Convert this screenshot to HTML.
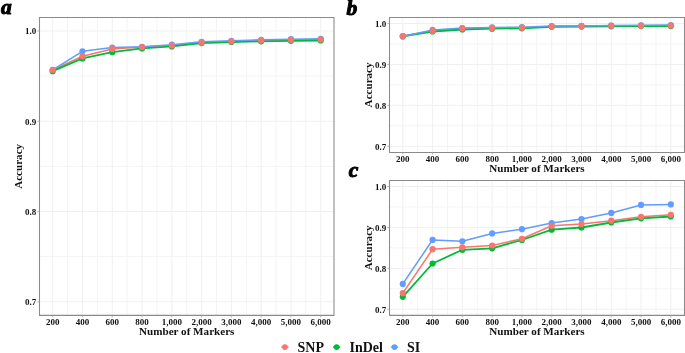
<!DOCTYPE html>
<html><head><meta charset="utf-8"><title>Accuracy vs Number of Markers</title><style>
html,body{margin:0;padding:0;background:#fff;}
body{width:685px;height:353px;overflow:hidden;}
svg{display:block;filter:blur(0.25px);}
text{font-family:"Liberation Serif", serif;font-weight:bold;fill:#111;}
.t{font-size:9px;}
.ax{font-size:11.1px;}
.lg{font-size:14px;}
.tag{font-size:21.5px;font-style:italic;fill:#000;stroke:#000;stroke-width:1px;stroke-linejoin:round;}
</style></head>
<body>
<svg width="685" height="353" viewBox="0 0 685 353">
<rect width="685" height="353" fill="#fff"/>
<line x1="67.59" y1="17.4" x2="67.59" y2="315.35" stroke="#f4f4f4" stroke-width="1"/>
<line x1="97.37" y1="17.4" x2="97.37" y2="315.35" stroke="#f4f4f4" stroke-width="1"/>
<line x1="127.15" y1="17.4" x2="127.15" y2="315.35" stroke="#f4f4f4" stroke-width="1"/>
<line x1="156.93" y1="17.4" x2="156.93" y2="315.35" stroke="#f4f4f4" stroke-width="1"/>
<line x1="186.71" y1="17.4" x2="186.71" y2="315.35" stroke="#f4f4f4" stroke-width="1"/>
<line x1="216.49" y1="17.4" x2="216.49" y2="315.35" stroke="#f4f4f4" stroke-width="1"/>
<line x1="246.27" y1="17.4" x2="246.27" y2="315.35" stroke="#f4f4f4" stroke-width="1"/>
<line x1="276.05" y1="17.4" x2="276.05" y2="315.35" stroke="#f4f4f4" stroke-width="1"/>
<line x1="305.83" y1="17.4" x2="305.83" y2="315.35" stroke="#f4f4f4" stroke-width="1"/>
<line x1="39.5" y1="256.66" x2="334.0" y2="256.66" stroke="#f4f4f4" stroke-width="1"/>
<line x1="39.5" y1="166.38" x2="334.0" y2="166.38" stroke="#f4f4f4" stroke-width="1"/>
<line x1="39.5" y1="76.09" x2="334.0" y2="76.09" stroke="#f4f4f4" stroke-width="1"/>
<line x1="52.70" y1="17.4" x2="52.70" y2="315.35" stroke="#f0f0f0" stroke-width="1"/>
<line x1="82.48" y1="17.4" x2="82.48" y2="315.35" stroke="#f0f0f0" stroke-width="1"/>
<line x1="112.26" y1="17.4" x2="112.26" y2="315.35" stroke="#f0f0f0" stroke-width="1"/>
<line x1="142.04" y1="17.4" x2="142.04" y2="315.35" stroke="#f0f0f0" stroke-width="1"/>
<line x1="171.82" y1="17.4" x2="171.82" y2="315.35" stroke="#f0f0f0" stroke-width="1"/>
<line x1="201.60" y1="17.4" x2="201.60" y2="315.35" stroke="#f0f0f0" stroke-width="1"/>
<line x1="231.38" y1="17.4" x2="231.38" y2="315.35" stroke="#f0f0f0" stroke-width="1"/>
<line x1="261.16" y1="17.4" x2="261.16" y2="315.35" stroke="#f0f0f0" stroke-width="1"/>
<line x1="290.94" y1="17.4" x2="290.94" y2="315.35" stroke="#f0f0f0" stroke-width="1"/>
<line x1="320.72" y1="17.4" x2="320.72" y2="315.35" stroke="#f0f0f0" stroke-width="1"/>
<line x1="39.5" y1="301.81" x2="334.0" y2="301.81" stroke="#f0f0f0" stroke-width="1"/>
<line x1="39.5" y1="211.52" x2="334.0" y2="211.52" stroke="#f0f0f0" stroke-width="1"/>
<line x1="39.5" y1="121.23" x2="334.0" y2="121.23" stroke="#f0f0f0" stroke-width="1"/>
<line x1="39.5" y1="30.94" x2="334.0" y2="30.94" stroke="#f0f0f0" stroke-width="1"/>
<polyline points="52.70,70.00 82.48,56.30 112.26,48.90 142.04,47.10 171.82,45.50 201.60,42.50 231.38,41.40 261.16,40.50 290.94,39.80 320.72,39.45" fill="none" stroke="#F8766D" stroke-width="1.55" stroke-linejoin="round"/>
<polyline points="52.70,71.20 82.48,58.40 112.26,52.20 142.04,48.40 171.82,46.40 201.60,43.10 231.38,42.00 261.16,41.30 290.94,40.80 320.72,40.50" fill="none" stroke="#00BA38" stroke-width="1.8" stroke-linejoin="round"/>
<polyline points="52.70,69.80 82.48,51.30 112.26,47.50 142.04,46.80 171.82,44.70 201.60,41.80 231.38,40.80 261.16,39.80 290.94,39.20 320.72,38.80" fill="none" stroke="#619CFF" stroke-width="1.55" stroke-linejoin="round"/>
<circle cx="52.70" cy="71.20" r="3.1" fill="#00BA38"/>
<circle cx="82.48" cy="58.40" r="3.1" fill="#00BA38"/>
<circle cx="112.26" cy="52.20" r="3.1" fill="#00BA38"/>
<circle cx="142.04" cy="48.40" r="3.1" fill="#00BA38"/>
<circle cx="171.82" cy="46.40" r="3.1" fill="#00BA38"/>
<circle cx="201.60" cy="43.10" r="3.1" fill="#00BA38"/>
<circle cx="231.38" cy="42.00" r="3.1" fill="#00BA38"/>
<circle cx="261.16" cy="41.30" r="3.1" fill="#00BA38"/>
<circle cx="290.94" cy="40.80" r="3.1" fill="#00BA38"/>
<circle cx="320.72" cy="40.50" r="3.1" fill="#00BA38"/>
<circle cx="52.70" cy="69.80" r="3.1" fill="#619CFF"/>
<circle cx="82.48" cy="51.30" r="3.1" fill="#619CFF"/>
<circle cx="112.26" cy="47.50" r="3.1" fill="#619CFF"/>
<circle cx="142.04" cy="46.80" r="3.1" fill="#619CFF"/>
<circle cx="171.82" cy="44.70" r="3.1" fill="#619CFF"/>
<circle cx="201.60" cy="41.80" r="3.1" fill="#619CFF"/>
<circle cx="231.38" cy="40.80" r="3.1" fill="#619CFF"/>
<circle cx="261.16" cy="39.80" r="3.1" fill="#619CFF"/>
<circle cx="290.94" cy="39.20" r="3.1" fill="#619CFF"/>
<circle cx="320.72" cy="38.80" r="3.1" fill="#619CFF"/>
<circle cx="52.70" cy="70.00" r="3.1" fill="#F8766D"/>
<circle cx="82.48" cy="56.30" r="3.1" fill="#F8766D"/>
<circle cx="112.26" cy="48.90" r="3.1" fill="#F8766D"/>
<circle cx="142.04" cy="47.10" r="3.1" fill="#F8766D"/>
<circle cx="171.82" cy="45.50" r="3.1" fill="#F8766D"/>
<circle cx="201.60" cy="42.50" r="3.1" fill="#F8766D"/>
<circle cx="231.38" cy="41.40" r="3.1" fill="#F8766D"/>
<circle cx="261.16" cy="40.50" r="3.1" fill="#F8766D"/>
<circle cx="290.94" cy="39.80" r="3.1" fill="#F8766D"/>
<circle cx="320.72" cy="39.45" r="3.1" fill="#F8766D"/>
<path d="M39.5,17.4H334.0V315.35H39.5Z" fill="none" stroke="#8a8a8a" stroke-width="1.05"/>
<line x1="52.70" y1="315.35" x2="52.70" y2="317.35" stroke="#a8a8a8" stroke-width="0.9"/>
<line x1="82.48" y1="315.35" x2="82.48" y2="317.35" stroke="#a8a8a8" stroke-width="0.9"/>
<line x1="112.26" y1="315.35" x2="112.26" y2="317.35" stroke="#a8a8a8" stroke-width="0.9"/>
<line x1="142.04" y1="315.35" x2="142.04" y2="317.35" stroke="#a8a8a8" stroke-width="0.9"/>
<line x1="171.82" y1="315.35" x2="171.82" y2="317.35" stroke="#a8a8a8" stroke-width="0.9"/>
<line x1="201.60" y1="315.35" x2="201.60" y2="317.35" stroke="#a8a8a8" stroke-width="0.9"/>
<line x1="231.38" y1="315.35" x2="231.38" y2="317.35" stroke="#a8a8a8" stroke-width="0.9"/>
<line x1="261.16" y1="315.35" x2="261.16" y2="317.35" stroke="#a8a8a8" stroke-width="0.9"/>
<line x1="290.94" y1="315.35" x2="290.94" y2="317.35" stroke="#a8a8a8" stroke-width="0.9"/>
<line x1="320.72" y1="315.35" x2="320.72" y2="317.35" stroke="#a8a8a8" stroke-width="0.9"/>
<line x1="37.3" y1="301.81" x2="39.5" y2="301.81" stroke="#a8a8a8" stroke-width="0.9"/>
<line x1="37.3" y1="211.52" x2="39.5" y2="211.52" stroke="#a8a8a8" stroke-width="0.9"/>
<line x1="37.3" y1="121.23" x2="39.5" y2="121.23" stroke="#a8a8a8" stroke-width="0.9"/>
<line x1="37.3" y1="30.94" x2="39.5" y2="30.94" stroke="#a8a8a8" stroke-width="0.9"/>
<text x="52.70" y="324.95" text-anchor="middle" class="t">200</text>
<text x="82.48" y="324.95" text-anchor="middle" class="t">400</text>
<text x="112.26" y="324.95" text-anchor="middle" class="t">600</text>
<text x="142.04" y="324.95" text-anchor="middle" class="t">800</text>
<text x="171.82" y="324.95" text-anchor="middle" class="t">1,000</text>
<text x="201.60" y="324.95" text-anchor="middle" class="t">2,000</text>
<text x="231.38" y="324.95" text-anchor="middle" class="t">3,000</text>
<text x="261.16" y="324.95" text-anchor="middle" class="t">4,000</text>
<text x="290.94" y="324.95" text-anchor="middle" class="t">5,000</text>
<text x="320.72" y="324.95" text-anchor="middle" class="t">6,000</text>
<text x="36.30" y="305.31" text-anchor="end" class="t">0.7</text>
<text x="36.30" y="215.02" text-anchor="end" class="t">0.8</text>
<text x="36.30" y="124.73" text-anchor="end" class="t">0.9</text>
<text x="36.30" y="34.44" text-anchor="end" class="t">1.0</text>
<text x="186.75" y="335.35" text-anchor="middle" class="ax">Number of Markers</text>
<text transform="translate(22.30,166.38) rotate(-90)" text-anchor="middle" class="ax">Accuracy</text>
<line x1="417.69" y1="17.4" x2="417.69" y2="152.4" stroke="#f4f4f4" stroke-width="1"/>
<line x1="447.47" y1="17.4" x2="447.47" y2="152.4" stroke="#f4f4f4" stroke-width="1"/>
<line x1="477.25" y1="17.4" x2="477.25" y2="152.4" stroke="#f4f4f4" stroke-width="1"/>
<line x1="507.03" y1="17.4" x2="507.03" y2="152.4" stroke="#f4f4f4" stroke-width="1"/>
<line x1="536.81" y1="17.4" x2="536.81" y2="152.4" stroke="#f4f4f4" stroke-width="1"/>
<line x1="566.59" y1="17.4" x2="566.59" y2="152.4" stroke="#f4f4f4" stroke-width="1"/>
<line x1="596.37" y1="17.4" x2="596.37" y2="152.4" stroke="#f4f4f4" stroke-width="1"/>
<line x1="626.15" y1="17.4" x2="626.15" y2="152.4" stroke="#f4f4f4" stroke-width="1"/>
<line x1="655.93" y1="17.4" x2="655.93" y2="152.4" stroke="#f4f4f4" stroke-width="1"/>
<line x1="389.5" y1="125.81" x2="684.5" y2="125.81" stroke="#f4f4f4" stroke-width="1"/>
<line x1="389.5" y1="84.90" x2="684.5" y2="84.90" stroke="#f4f4f4" stroke-width="1"/>
<line x1="389.5" y1="43.99" x2="684.5" y2="43.99" stroke="#f4f4f4" stroke-width="1"/>
<line x1="402.80" y1="17.4" x2="402.80" y2="152.4" stroke="#f0f0f0" stroke-width="1"/>
<line x1="432.58" y1="17.4" x2="432.58" y2="152.4" stroke="#f0f0f0" stroke-width="1"/>
<line x1="462.36" y1="17.4" x2="462.36" y2="152.4" stroke="#f0f0f0" stroke-width="1"/>
<line x1="492.14" y1="17.4" x2="492.14" y2="152.4" stroke="#f0f0f0" stroke-width="1"/>
<line x1="521.92" y1="17.4" x2="521.92" y2="152.4" stroke="#f0f0f0" stroke-width="1"/>
<line x1="551.70" y1="17.4" x2="551.70" y2="152.4" stroke="#f0f0f0" stroke-width="1"/>
<line x1="581.48" y1="17.4" x2="581.48" y2="152.4" stroke="#f0f0f0" stroke-width="1"/>
<line x1="611.26" y1="17.4" x2="611.26" y2="152.4" stroke="#f0f0f0" stroke-width="1"/>
<line x1="641.04" y1="17.4" x2="641.04" y2="152.4" stroke="#f0f0f0" stroke-width="1"/>
<line x1="670.82" y1="17.4" x2="670.82" y2="152.4" stroke="#f0f0f0" stroke-width="1"/>
<line x1="389.5" y1="146.26" x2="684.5" y2="146.26" stroke="#f0f0f0" stroke-width="1"/>
<line x1="389.5" y1="105.35" x2="684.5" y2="105.35" stroke="#f0f0f0" stroke-width="1"/>
<line x1="389.5" y1="64.45" x2="684.5" y2="64.45" stroke="#f0f0f0" stroke-width="1"/>
<line x1="389.5" y1="23.54" x2="684.5" y2="23.54" stroke="#f0f0f0" stroke-width="1"/>
<polyline points="402.80,36.06 432.58,30.80 462.36,28.40 492.14,27.90 521.92,27.65 551.70,26.30 581.48,26.10 611.26,25.70 641.04,25.70 670.82,25.60" fill="none" stroke="#F8766D" stroke-width="1.55" stroke-linejoin="round"/>
<polyline points="402.80,36.30 432.58,31.50 462.36,29.50 492.14,28.70 521.92,28.30 551.70,26.80 581.48,26.60 611.26,26.30 641.04,26.10 670.82,26.10" fill="none" stroke="#00BA38" stroke-width="1.8" stroke-linejoin="round"/>
<polyline points="402.80,36.40 432.58,29.95 462.36,28.00 492.14,27.40 521.92,27.20 551.70,26.10 581.48,25.90 611.26,25.50 641.04,25.30 670.82,25.00" fill="none" stroke="#619CFF" stroke-width="1.55" stroke-linejoin="round"/>
<circle cx="402.80" cy="36.30" r="3.1" fill="#00BA38"/>
<circle cx="432.58" cy="31.50" r="3.1" fill="#00BA38"/>
<circle cx="462.36" cy="29.50" r="3.1" fill="#00BA38"/>
<circle cx="492.14" cy="28.70" r="3.1" fill="#00BA38"/>
<circle cx="521.92" cy="28.30" r="3.1" fill="#00BA38"/>
<circle cx="551.70" cy="26.80" r="3.1" fill="#00BA38"/>
<circle cx="581.48" cy="26.60" r="3.1" fill="#00BA38"/>
<circle cx="611.26" cy="26.30" r="3.1" fill="#00BA38"/>
<circle cx="641.04" cy="26.10" r="3.1" fill="#00BA38"/>
<circle cx="670.82" cy="26.10" r="3.1" fill="#00BA38"/>
<circle cx="402.80" cy="36.40" r="3.1" fill="#619CFF"/>
<circle cx="432.58" cy="29.95" r="3.1" fill="#619CFF"/>
<circle cx="462.36" cy="28.00" r="3.1" fill="#619CFF"/>
<circle cx="492.14" cy="27.40" r="3.1" fill="#619CFF"/>
<circle cx="521.92" cy="27.20" r="3.1" fill="#619CFF"/>
<circle cx="551.70" cy="26.10" r="3.1" fill="#619CFF"/>
<circle cx="581.48" cy="25.90" r="3.1" fill="#619CFF"/>
<circle cx="611.26" cy="25.50" r="3.1" fill="#619CFF"/>
<circle cx="641.04" cy="25.30" r="3.1" fill="#619CFF"/>
<circle cx="670.82" cy="25.00" r="3.1" fill="#619CFF"/>
<circle cx="402.80" cy="36.06" r="3.1" fill="#F8766D"/>
<circle cx="432.58" cy="30.80" r="3.1" fill="#F8766D"/>
<circle cx="462.36" cy="28.40" r="3.1" fill="#F8766D"/>
<circle cx="492.14" cy="27.90" r="3.1" fill="#F8766D"/>
<circle cx="521.92" cy="27.65" r="3.1" fill="#F8766D"/>
<circle cx="551.70" cy="26.30" r="3.1" fill="#F8766D"/>
<circle cx="581.48" cy="26.10" r="3.1" fill="#F8766D"/>
<circle cx="611.26" cy="25.70" r="3.1" fill="#F8766D"/>
<circle cx="641.04" cy="25.70" r="3.1" fill="#F8766D"/>
<circle cx="670.82" cy="25.60" r="3.1" fill="#F8766D"/>
<path d="M389.5,17.4H684.5V152.4H389.5Z" fill="none" stroke="#8a8a8a" stroke-width="1.05"/>
<line x1="402.80" y1="152.4" x2="402.80" y2="154.4" stroke="#a8a8a8" stroke-width="0.9"/>
<line x1="432.58" y1="152.4" x2="432.58" y2="154.4" stroke="#a8a8a8" stroke-width="0.9"/>
<line x1="462.36" y1="152.4" x2="462.36" y2="154.4" stroke="#a8a8a8" stroke-width="0.9"/>
<line x1="492.14" y1="152.4" x2="492.14" y2="154.4" stroke="#a8a8a8" stroke-width="0.9"/>
<line x1="521.92" y1="152.4" x2="521.92" y2="154.4" stroke="#a8a8a8" stroke-width="0.9"/>
<line x1="551.70" y1="152.4" x2="551.70" y2="154.4" stroke="#a8a8a8" stroke-width="0.9"/>
<line x1="581.48" y1="152.4" x2="581.48" y2="154.4" stroke="#a8a8a8" stroke-width="0.9"/>
<line x1="611.26" y1="152.4" x2="611.26" y2="154.4" stroke="#a8a8a8" stroke-width="0.9"/>
<line x1="641.04" y1="152.4" x2="641.04" y2="154.4" stroke="#a8a8a8" stroke-width="0.9"/>
<line x1="670.82" y1="152.4" x2="670.82" y2="154.4" stroke="#a8a8a8" stroke-width="0.9"/>
<line x1="387.3" y1="146.26" x2="389.5" y2="146.26" stroke="#a8a8a8" stroke-width="0.9"/>
<line x1="387.3" y1="105.35" x2="389.5" y2="105.35" stroke="#a8a8a8" stroke-width="0.9"/>
<line x1="387.3" y1="64.45" x2="389.5" y2="64.45" stroke="#a8a8a8" stroke-width="0.9"/>
<line x1="387.3" y1="23.54" x2="389.5" y2="23.54" stroke="#a8a8a8" stroke-width="0.9"/>
<text x="402.80" y="162.00" text-anchor="middle" class="t">200</text>
<text x="432.58" y="162.00" text-anchor="middle" class="t">400</text>
<text x="462.36" y="162.00" text-anchor="middle" class="t">600</text>
<text x="492.14" y="162.00" text-anchor="middle" class="t">800</text>
<text x="521.92" y="162.00" text-anchor="middle" class="t">1,000</text>
<text x="551.70" y="162.00" text-anchor="middle" class="t">2,000</text>
<text x="581.48" y="162.00" text-anchor="middle" class="t">3,000</text>
<text x="611.26" y="162.00" text-anchor="middle" class="t">4,000</text>
<text x="641.04" y="162.00" text-anchor="middle" class="t">5,000</text>
<text x="670.82" y="162.00" text-anchor="middle" class="t">6,000</text>
<text x="386.30" y="149.76" text-anchor="end" class="t">0.7</text>
<text x="386.30" y="108.85" text-anchor="end" class="t">0.8</text>
<text x="386.30" y="67.95" text-anchor="end" class="t">0.9</text>
<text x="386.30" y="27.04" text-anchor="end" class="t">1.0</text>
<text x="537.00" y="172.40" text-anchor="middle" class="ax">Number of Markers</text>
<text transform="translate(372.30,84.90) rotate(-90)" text-anchor="middle" class="ax">Accuracy</text>
<line x1="417.69" y1="180.4" x2="417.69" y2="315.35" stroke="#f4f4f4" stroke-width="1"/>
<line x1="447.47" y1="180.4" x2="447.47" y2="315.35" stroke="#f4f4f4" stroke-width="1"/>
<line x1="477.25" y1="180.4" x2="477.25" y2="315.35" stroke="#f4f4f4" stroke-width="1"/>
<line x1="507.03" y1="180.4" x2="507.03" y2="315.35" stroke="#f4f4f4" stroke-width="1"/>
<line x1="536.81" y1="180.4" x2="536.81" y2="315.35" stroke="#f4f4f4" stroke-width="1"/>
<line x1="566.59" y1="180.4" x2="566.59" y2="315.35" stroke="#f4f4f4" stroke-width="1"/>
<line x1="596.37" y1="180.4" x2="596.37" y2="315.35" stroke="#f4f4f4" stroke-width="1"/>
<line x1="626.15" y1="180.4" x2="626.15" y2="315.35" stroke="#f4f4f4" stroke-width="1"/>
<line x1="655.93" y1="180.4" x2="655.93" y2="315.35" stroke="#f4f4f4" stroke-width="1"/>
<line x1="389.5" y1="288.77" x2="684.5" y2="288.77" stroke="#f4f4f4" stroke-width="1"/>
<line x1="389.5" y1="247.88" x2="684.5" y2="247.88" stroke="#f4f4f4" stroke-width="1"/>
<line x1="389.5" y1="206.98" x2="684.5" y2="206.98" stroke="#f4f4f4" stroke-width="1"/>
<line x1="402.80" y1="180.4" x2="402.80" y2="315.35" stroke="#f0f0f0" stroke-width="1"/>
<line x1="432.58" y1="180.4" x2="432.58" y2="315.35" stroke="#f0f0f0" stroke-width="1"/>
<line x1="462.36" y1="180.4" x2="462.36" y2="315.35" stroke="#f0f0f0" stroke-width="1"/>
<line x1="492.14" y1="180.4" x2="492.14" y2="315.35" stroke="#f0f0f0" stroke-width="1"/>
<line x1="521.92" y1="180.4" x2="521.92" y2="315.35" stroke="#f0f0f0" stroke-width="1"/>
<line x1="551.70" y1="180.4" x2="551.70" y2="315.35" stroke="#f0f0f0" stroke-width="1"/>
<line x1="581.48" y1="180.4" x2="581.48" y2="315.35" stroke="#f0f0f0" stroke-width="1"/>
<line x1="611.26" y1="180.4" x2="611.26" y2="315.35" stroke="#f0f0f0" stroke-width="1"/>
<line x1="641.04" y1="180.4" x2="641.04" y2="315.35" stroke="#f0f0f0" stroke-width="1"/>
<line x1="670.82" y1="180.4" x2="670.82" y2="315.35" stroke="#f0f0f0" stroke-width="1"/>
<line x1="389.5" y1="309.22" x2="684.5" y2="309.22" stroke="#f0f0f0" stroke-width="1"/>
<line x1="389.5" y1="268.32" x2="684.5" y2="268.32" stroke="#f0f0f0" stroke-width="1"/>
<line x1="389.5" y1="227.43" x2="684.5" y2="227.43" stroke="#f0f0f0" stroke-width="1"/>
<line x1="389.5" y1="186.53" x2="684.5" y2="186.53" stroke="#f0f0f0" stroke-width="1"/>
<polyline points="402.80,293.10 432.58,249.20 462.36,247.30 492.14,245.50 521.92,238.80 551.70,225.80 581.48,224.00 611.26,220.70 641.04,216.80 670.82,214.80" fill="none" stroke="#F8766D" stroke-width="1.55" stroke-linejoin="round"/>
<polyline points="402.80,296.80 432.58,263.50 462.36,249.80 492.14,248.30 521.92,240.00 551.70,229.70 581.48,227.50 611.26,222.50 641.04,218.30 670.82,216.50" fill="none" stroke="#00BA38" stroke-width="1.8" stroke-linejoin="round"/>
<polyline points="402.80,283.90 432.58,239.90 462.36,241.30 492.14,233.40 521.92,229.20 551.70,223.10 581.48,219.00 611.26,212.90 641.04,204.90 670.82,204.40" fill="none" stroke="#619CFF" stroke-width="1.55" stroke-linejoin="round"/>
<circle cx="402.80" cy="296.80" r="3.1" fill="#00BA38"/>
<circle cx="432.58" cy="263.50" r="3.1" fill="#00BA38"/>
<circle cx="462.36" cy="249.80" r="3.1" fill="#00BA38"/>
<circle cx="492.14" cy="248.30" r="3.1" fill="#00BA38"/>
<circle cx="521.92" cy="240.00" r="3.1" fill="#00BA38"/>
<circle cx="551.70" cy="229.70" r="3.1" fill="#00BA38"/>
<circle cx="581.48" cy="227.50" r="3.1" fill="#00BA38"/>
<circle cx="611.26" cy="222.50" r="3.1" fill="#00BA38"/>
<circle cx="641.04" cy="218.30" r="3.1" fill="#00BA38"/>
<circle cx="670.82" cy="216.50" r="3.1" fill="#00BA38"/>
<circle cx="402.80" cy="283.90" r="3.1" fill="#619CFF"/>
<circle cx="432.58" cy="239.90" r="3.1" fill="#619CFF"/>
<circle cx="462.36" cy="241.30" r="3.1" fill="#619CFF"/>
<circle cx="492.14" cy="233.40" r="3.1" fill="#619CFF"/>
<circle cx="521.92" cy="229.20" r="3.1" fill="#619CFF"/>
<circle cx="551.70" cy="223.10" r="3.1" fill="#619CFF"/>
<circle cx="581.48" cy="219.00" r="3.1" fill="#619CFF"/>
<circle cx="611.26" cy="212.90" r="3.1" fill="#619CFF"/>
<circle cx="641.04" cy="204.90" r="3.1" fill="#619CFF"/>
<circle cx="670.82" cy="204.40" r="3.1" fill="#619CFF"/>
<circle cx="402.80" cy="293.10" r="3.1" fill="#F8766D"/>
<circle cx="432.58" cy="249.20" r="3.1" fill="#F8766D"/>
<circle cx="462.36" cy="247.30" r="3.1" fill="#F8766D"/>
<circle cx="492.14" cy="245.50" r="3.1" fill="#F8766D"/>
<circle cx="521.92" cy="238.80" r="3.1" fill="#F8766D"/>
<circle cx="551.70" cy="225.80" r="3.1" fill="#F8766D"/>
<circle cx="581.48" cy="224.00" r="3.1" fill="#F8766D"/>
<circle cx="611.26" cy="220.70" r="3.1" fill="#F8766D"/>
<circle cx="641.04" cy="216.80" r="3.1" fill="#F8766D"/>
<circle cx="670.82" cy="214.80" r="3.1" fill="#F8766D"/>
<path d="M389.5,180.4H684.5V315.35H389.5Z" fill="none" stroke="#8a8a8a" stroke-width="1.05"/>
<line x1="402.80" y1="315.35" x2="402.80" y2="317.35" stroke="#a8a8a8" stroke-width="0.9"/>
<line x1="432.58" y1="315.35" x2="432.58" y2="317.35" stroke="#a8a8a8" stroke-width="0.9"/>
<line x1="462.36" y1="315.35" x2="462.36" y2="317.35" stroke="#a8a8a8" stroke-width="0.9"/>
<line x1="492.14" y1="315.35" x2="492.14" y2="317.35" stroke="#a8a8a8" stroke-width="0.9"/>
<line x1="521.92" y1="315.35" x2="521.92" y2="317.35" stroke="#a8a8a8" stroke-width="0.9"/>
<line x1="551.70" y1="315.35" x2="551.70" y2="317.35" stroke="#a8a8a8" stroke-width="0.9"/>
<line x1="581.48" y1="315.35" x2="581.48" y2="317.35" stroke="#a8a8a8" stroke-width="0.9"/>
<line x1="611.26" y1="315.35" x2="611.26" y2="317.35" stroke="#a8a8a8" stroke-width="0.9"/>
<line x1="641.04" y1="315.35" x2="641.04" y2="317.35" stroke="#a8a8a8" stroke-width="0.9"/>
<line x1="670.82" y1="315.35" x2="670.82" y2="317.35" stroke="#a8a8a8" stroke-width="0.9"/>
<line x1="387.3" y1="309.22" x2="389.5" y2="309.22" stroke="#a8a8a8" stroke-width="0.9"/>
<line x1="387.3" y1="268.32" x2="389.5" y2="268.32" stroke="#a8a8a8" stroke-width="0.9"/>
<line x1="387.3" y1="227.43" x2="389.5" y2="227.43" stroke="#a8a8a8" stroke-width="0.9"/>
<line x1="387.3" y1="186.53" x2="389.5" y2="186.53" stroke="#a8a8a8" stroke-width="0.9"/>
<text x="402.80" y="324.95" text-anchor="middle" class="t">200</text>
<text x="432.58" y="324.95" text-anchor="middle" class="t">400</text>
<text x="462.36" y="324.95" text-anchor="middle" class="t">600</text>
<text x="492.14" y="324.95" text-anchor="middle" class="t">800</text>
<text x="521.92" y="324.95" text-anchor="middle" class="t">1,000</text>
<text x="551.70" y="324.95" text-anchor="middle" class="t">2,000</text>
<text x="581.48" y="324.95" text-anchor="middle" class="t">3,000</text>
<text x="611.26" y="324.95" text-anchor="middle" class="t">4,000</text>
<text x="641.04" y="324.95" text-anchor="middle" class="t">5,000</text>
<text x="670.82" y="324.95" text-anchor="middle" class="t">6,000</text>
<text x="386.30" y="312.72" text-anchor="end" class="t">0.7</text>
<text x="386.30" y="271.82" text-anchor="end" class="t">0.8</text>
<text x="386.30" y="230.93" text-anchor="end" class="t">0.9</text>
<text x="386.30" y="190.03" text-anchor="end" class="t">1.0</text>
<text x="537.00" y="335.35" text-anchor="middle" class="ax">Number of Markers</text>
<text transform="translate(372.30,247.88) rotate(-90)" text-anchor="middle" class="ax">Accuracy</text>
<text x="1.0" y="14.1" class="tag">a</text>
<text x="346.6" y="14.8" class="tag">b</text>
<text x="348.7" y="177.3" class="tag">c</text>
<line x1="281.2" y1="347.1" x2="288.59999999999997" y2="347.1" stroke="#F8766D" stroke-width="1.4"/><circle cx="284.9" cy="347.1" r="2.85" fill="#F8766D"/>
<text x="297.5" y="352" class="lg">SNP</text>
<line x1="332.90000000000003" y1="347.1" x2="340.3" y2="347.1" stroke="#00BA38" stroke-width="1.4"/><circle cx="336.6" cy="347.1" r="2.85" fill="#00BA38"/>
<text x="349.5" y="352" class="lg">InDel</text>
<line x1="390.8" y1="347.1" x2="398.2" y2="347.1" stroke="#619CFF" stroke-width="1.4"/><circle cx="394.5" cy="347.1" r="2.85" fill="#619CFF"/>
<text x="407" y="352" class="lg">SI</text>
</svg>
</body></html>
